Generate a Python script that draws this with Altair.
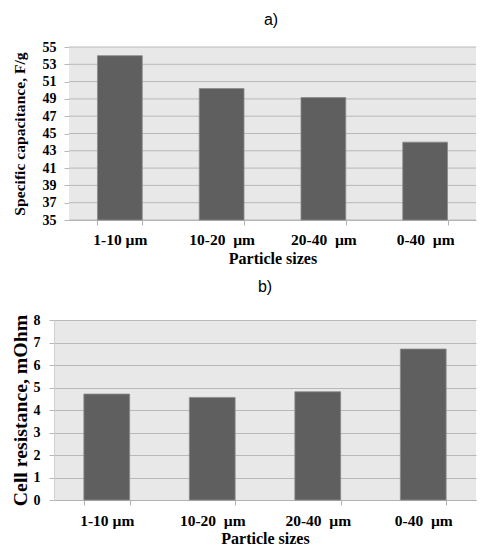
import altair as alt
import pandas as pd

categories = ["1-10 µm", "10-20\u00a0 µm", "20-40\u00a0 µm", "0-40\u00a0 µm"]
capacitance = [54.0, 50.2, 49.15, 44.0]
resistance = [4.71, 4.56, 4.81, 6.71]
cap_ticks = list(range(35, 56, 2))
res_ticks = list(range(0, 9, 1))

df_a = pd.DataFrame({"size": categories, "value": capacitance})
df_b = pd.DataFrame({"size": categories, "value": resistance})
df_grid_a = pd.DataFrame({"value": cap_ticks})

SERIF = "Liberation Serif"
SANS = "Liberation Sans"
BG = "#e8e8e8"
GRID = "#b8b8b8"
BAR = "#5f5f5f"

W = 422          # both panels share the plot origin; panel a is inset on the left
INSET = 15
H_A = 173
H_B = 180


def x_axis(label_pad, title_pad):
    return alt.Axis(title="Particle sizes", labelAngle=0,
                    labelFont=SERIF, labelFontSize=15.5, labelFontWeight="bold",
                    labelColor="#000", labelPadding=label_pad,
                    titleFont=SERIF, titleFontSize=16, titleFontWeight="bold",
                    titleColor="#000", titlePadding=title_pad,
                    tickBand="extent", tickSize=5, tickColor="#b0b0b0",
                    domainColor="#b0b0b0", grid=False)


def y_axis(title, ticks, title_size, title_pad, label_pad, grid, offset=0):
    return alt.Axis(title=title, values=ticks, format="d", offset=offset,
                    labelFont=SERIF, labelFontSize=14, labelFontWeight="bold",
                    labelColor="#000", labelPadding=label_pad,
                    titleFont=SERIF, titleFontSize=title_size,
                    titleFontWeight="bold", titleColor="#000",
                    titlePadding=title_pad,
                    tickSize=5, tickColor=GRID, grid=grid, gridColor=GRID,
                    domainColor="#d0d0d0")


# ---- panel a (inset so its plot area starts further right) ----
y_a = alt.Scale(domain=[35, 55], nice=False, zero=False)
ax_a = y_axis("Specific capacitance,  F/g", cap_ticks, 15.6, 15, 8, False, offset=-INSET)

bg_a = alt.Chart(alt.Data(values=[{}])).mark_rect(color=BG).encode(
    x=alt.value(INSET), x2=alt.value(W), y=alt.value(0), y2=alt.value(H_A)
)
grid_a = alt.Chart(df_grid_a).mark_rule(color=GRID, strokeWidth=1).encode(
    y=alt.Y("value:Q", scale=y_a, axis=ax_a), x=alt.value(INSET), x2=alt.value(W)
)
bars_a = alt.Chart(df_a).mark_bar(color=BAR, stroke="#8a8a8a", strokeWidth=0.8).encode(
    x=alt.X("size:N", sort=categories,
            scale=alt.Scale(range=[INSET, W], paddingInner=0.56, paddingOuter=0.28),
            axis=x_axis(7, 3)),
    y=alt.Y("value:Q", scale=y_a, axis=ax_a),
    y2=alt.datum(35),
)
top = (
    alt.layer(bg_a, grid_a, bars_a)
    .properties(width=W, height=H_A,
                title=alt.Title("a)", font=SANS, fontSize=16, fontWeight="normal",
                                color="#000", offset=12, dx=6),
                view=alt.ViewBackground(fill=None, stroke=None))
)

# ---- panel b ----
bottom = (
    alt.Chart(df_b)
    .mark_bar(color=BAR, stroke="#8a8a8a", strokeWidth=0.8)
    .encode(
        x=alt.X("size:N", sort=categories,
                scale=alt.Scale(paddingInner=0.566, paddingOuter=0.283),
                axis=x_axis(8, 2)),
        y=alt.Y("value:Q", scale=alt.Scale(domain=[0, 8], nice=False),
                axis=y_axis("Cell resistance, mOhm", res_ticks, 19.8, 3, 9, True)),
    )
    .properties(width=W, height=H_B,
                title=alt.Title("b)", font=SANS, fontSize=16, fontWeight="normal",
                                color="#000", offset=18),
                view=alt.ViewBackground(fill=BG, stroke=None))
)

chart = (
    alt.concat(top, bottom, columns=1, spacing=12, align="none")
    .configure_view(stroke=None)
    .properties(padding={"left": 2, "top": 4, "right": 0, "bottom": 0}, background="#ffffff")
)

chart.save("out.html", embed_options={"renderer": "svg", "actions": False})
